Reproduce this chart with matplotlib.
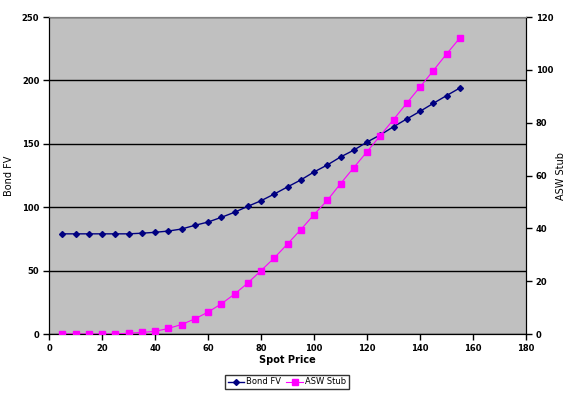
import matplotlib
matplotlib.use("Agg")
import matplotlib.pyplot as plt
from matplotlib.lines import Line2D

spot = [5, 10, 15, 20, 25, 30, 35, 40, 45, 50, 55, 60, 65, 70, 75, 80,
        85, 90, 95, 100, 105, 110, 115, 120, 125, 130, 135, 140, 145, 150, 155]
bond_fv = [79, 79, 79, 79, 79, 79, 79.5, 80.2, 81.2, 82.8, 85.7, 88.3, 92, 96, 100.7, 105.1,
           110.4, 116, 121.5, 127.8, 133.3, 139.6, 145, 151.4, 157, 163.5, 169.6, 175.6, 181.9, 188, 194]
asw_stub = [0, 0, 0, 0, 0, 0.3, 0.6, 1.0, 2.1, 3.6, 5.7, 8.3, 11.4, 15.1, 19.3, 24,
            28.8, 34.1, 39.5, 45.2, 50.6, 56.9, 63, 69, 75.1, 81.2, 87.4, 93.5, 99.7, 106, 112]

fig = plt.figure(figsize=(5.76, 3.95), dpi=100)
ax = fig.add_axes([0.0851, 0.1544, 0.8281, 0.8025])
ax.set_facecolor("#C0C0C0")
ax2 = ax.twinx()

ax.set_xlim(0, 180)
ax.set_ylim(0, 250)
ax2.set_ylim(0, 120)
ax.set_xticks(range(0, 181, 20))
ax.set_yticks(range(0, 251, 50))
ax2.set_yticks(range(0, 121, 20))

ax.yaxis.grid(True, color="black", linewidth=1)
ax.set_axisbelow(True)

ax.plot(spot, bond_fv, color="#000080", marker="D", markersize=3, linewidth=1, zorder=3)
ax2.plot(spot, asw_stub, color="#FF00FF", marker="s", markersize=4.5, linewidth=0.8, zorder=3)

for a in (ax, ax2):
    a.spines["top"].set_color("#808080")
    a.spines["left"].set_color("black")
    a.spines["right"].set_color("black")
    a.spines["bottom"].set_color("black")
    a.tick_params(direction="out", length=4, width=1, labelsize=6, colors="black", pad=3)
    for lab in a.get_xticklabels() + a.get_yticklabels():
        lab.set_fontweight("bold")

ax.set_xlabel("Spot Price", fontsize=7, fontweight="bold")
ax.set_ylabel("Bond FV", fontsize=7)
ax2.set_ylabel("ASW Stub", fontsize=7)
ax.xaxis.set_label_coords(0.5, -0.066)
ax.yaxis.set_label_coords(-0.073, 0.5)
ax2.yaxis.set_label_coords(1.063, 0.5)

handles = [Line2D([], [], color="#000080", marker="D", markersize=3, linewidth=1),
           Line2D([], [], color="#FF00FF", marker="s", markersize=4.5, linewidth=0.8)]
fig.legend(handles, ["Bond FV", "ASW Stub"], loc="center", bbox_to_anchor=(0.498, 0.033),
           ncol=2, fontsize=6, frameon=True, fancybox=False, edgecolor="black",
           handlelength=2.0, columnspacing=0.6, borderpad=0.35, handletextpad=0.25,
           borderaxespad=0.2)

fig.savefig("out.png", dpi=100)
